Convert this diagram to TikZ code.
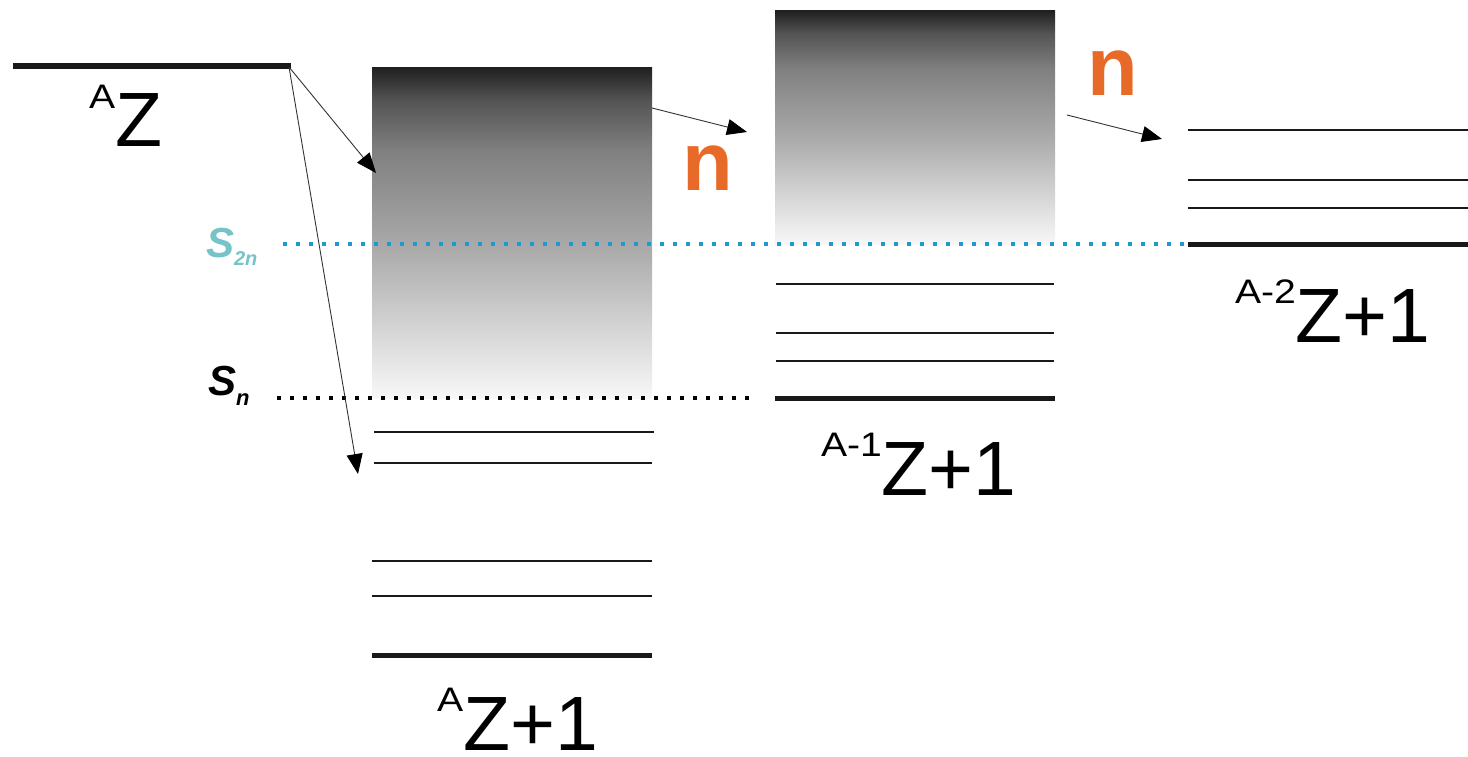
\documentclass[tikz,border=0pt]{standalone}
\usepackage{fontspec}
\setmainfont{Liberation Sans}
\usetikzlibrary{arrows.meta}
\definecolor{sorange}{RGB}{232,106,40}
\definecolor{steal}{RGB}{118,196,200}
\definecolor{sblue}{RGB}{30,155,205}
\pgfdeclareverticalshading{contshade}{100bp}{color(0bp)=(white!97!black); color(25bp)=(white!97!black); color(35bp)=(black!16); color(47.5bp)=(black!33); color(62.5bp)=(black!50); color(70bp)=(black!67); color(75bp)=(black!88); color(100bp)=(black!88)}
\newcommand{\bigZ}[2]{{\fontsize{34}{34}\selectfont\raisebox{39pt}{\scalebox{1.15}[1]{#1}}}{\fontsize{77}{77}\selectfont Z#2}}
\begin{document}
\begin{tikzpicture}[x=1pt,y=-1pt,
  thinlevel/.style={line width=2pt,black!90},
  thicklevel/.style={line width=6pt,black!90},
  decay/.style={line width=0.9pt,black!80,-{Triangle[length=20pt,width=16pt,color=black]}},
  contbox/.style={shading=contshade,minimum width=280pt,inner sep=0pt,anchor=north west,draw=none},
  lbl/.style={anchor=base west,inner sep=0pt,outer sep=0pt},
  nlbl/.style={lbl,text=sorange,font=\fontsize{83}{83}\selectfont\bfseries},
  sep/.style={line width=3.5pt,dash pattern=on 3.5pt off 9.5pt}]
\useasboundingbox (0,0) rectangle (1468,757);
% continuum boxes
\node[contbox,shade,minimum height=331pt] (box1) at (372,67) {};
\node[contbox,shade,minimum height=234pt,minimum width=280pt] (box2) at (775,10) {};
% parent level
\draw[thicklevel] (13,66) -- (291,66);
\node[lbl] (lAZ) at (89,147) {\bigZ{A}{}};
% A Z+1 levels
\draw[thinlevel] (374,432) -- (654,432);
\draw[thinlevel] (374,463) -- (652,463);
\draw[thinlevel] (372,561) -- (652,561);
\draw[thinlevel] (372,596) -- (652,596);
\draw[thicklevel,line width=5pt] (372,655) -- (652,655);
\node[lbl,text depth=0pt] (lAZ1) at (437,750) {\bigZ{A}{+1}};
% A-1 Z+1 levels
\draw[thinlevel] (776,284) -- (1054,284);
\draw[thinlevel] (776,333) -- (1054,333);
\draw[thinlevel] (776,361) -- (1054,361);
\draw[thicklevel,line width=5pt] (775,398) -- (1055,398);
\node[lbl] (lAZ2) at (821,495) {\bigZ{A-1}{+1}};
% A-2 Z+1 levels
\draw[thinlevel] (1188,130) -- (1468,130);
\draw[thinlevel] (1188,180) -- (1468,180);
\draw[thinlevel] (1188,208) -- (1468,208);
\draw[thicklevel,line width=5pt] (1188,244) -- (1468,244);
\node[lbl] (lAZ3) at (1235,342) {\bigZ{A-2}{+1}};
% separation energies
\draw[sep,sblue] (283,244) -- (1186,244);
\draw[sep,black] (277,398) -- (752,398);
\node[lbl,text=steal] (ls2n) at (206,257) {\fontsize{42}{42}\selectfont\bfseries\itshape S\raisebox{-8pt}{\fontsize{20}{20}\selectfont 2n}};
\node[lbl,text=black] (lsn) at (208,395) {\fontsize{42}{42}\selectfont\bfseries\itshape S\raisebox{-10pt}{\fontsize{22}{22}\selectfont n}};
% neutron labels
\node[nlbl] (n1) at (682,190) {n};
\node[nlbl] (n2) at (1087,96) {n};
% arrows
\coordinate (az) at (289,67);
\coordinate (c1) at (376,173);
\coordinate (c1b) at (358,474);
\coordinate (b1) at (652,108);
\coordinate (c2) at (747,132);
\coordinate (b2) at (1067,115);
\coordinate (c3) at (1162,139);
\draw[decay] (az) -- (c1);
\draw[decay] (az) -- (c1b);
\draw[decay] (b1) -- (c2);
\draw[decay] (b2) -- (c3);
\end{tikzpicture}
\end{document}
